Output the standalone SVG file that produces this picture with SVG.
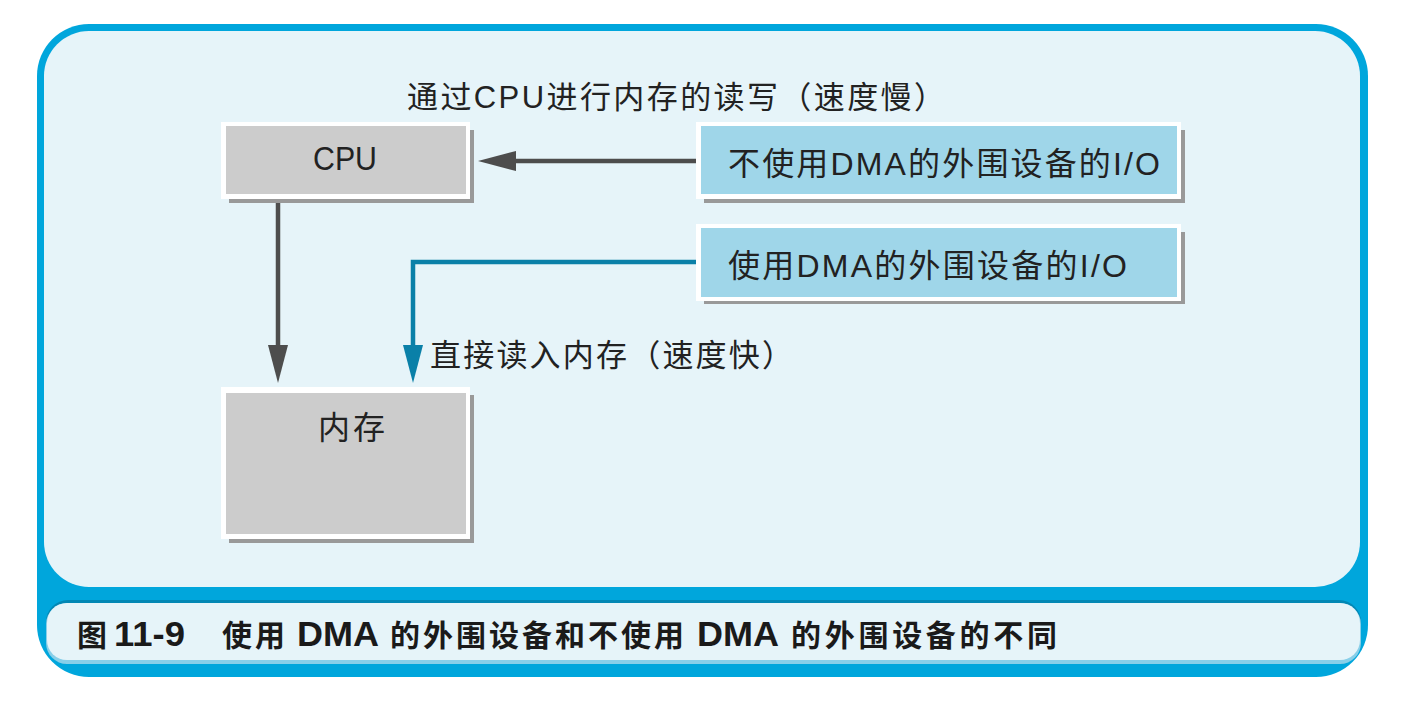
<svg xmlns="http://www.w3.org/2000/svg" width="1408" height="710" viewBox="0 0 1408 710">
<style>
.t{font-family:"Liberation Sans","Noto Sans CJK SC",sans-serif;fill:#222;}
.cap{font-family:"Liberation Sans","Noto Sans CJK SC",sans-serif;font-weight:bold;fill:#1a1a1a;font-size:30px;}
.wb{fill:#ffffff;}
.sh{fill:#999999;}
.gray{fill:#cccccc;}
.blue{fill:#9fd6e9;}
</style>
<rect width="1408" height="710" fill="#ffffff"/>
<g id="frame">
<rect x="37" y="24" width="1331" height="653" rx="52" fill="#00a6dc"/>
<rect x="44" y="31" width="1316" height="556" rx="45" fill="#e6f4f9"/>
</g>
<g id="caption">
<rect x="46" y="600" width="1315" height="64" rx="22" fill="#0287b4"/>
<rect x="46" y="603" width="1315" height="61" rx="21" fill="#88cfe9"/>
<rect x="47" y="603" width="1313" height="57" rx="20" fill="#e6f4f9"/>
<text class="cap" y="646"><tspan x="77">图</tspan><tspan x="114" font-size="35" textLength="71" lengthAdjust="spacingAndGlyphs">11-9</tspan><tspan x="222" textLength="63" lengthAdjust="spacing">使用</tspan><tspan x="297" font-size="35" textLength="82" lengthAdjust="spacingAndGlyphs">DMA</tspan><tspan x="390" textLength="294" lengthAdjust="spacing">的外围设备和不使用</tspan><tspan x="697" font-size="35" textLength="82" lengthAdjust="spacingAndGlyphs">DMA</tspan><tspan x="791" textLength="266" lengthAdjust="spacing">的外围设备的不同</tspan></text>
</g>
<g id="connectors">
<line x1="278" y1="203" x2="278" y2="347" stroke="#4d4d4d" stroke-width="4.5"/>
<polygon points="268,345 288,345 278,383" fill="#4d4d4d"/>
<line x1="514" y1="161" x2="696" y2="161" stroke="#4d4d4d" stroke-width="4.5"/>
<polygon points="516,151 516,171 478,161" fill="#4d4d4d"/>
<polyline points="696,262 413,262 413,347" fill="none" stroke="#0a80a8" stroke-width="4.5"/>
<polygon points="403,345 423,345 413,383" fill="#0a80a8"/>
</g>
<g id="label-slow">
<text class="t" x="407" y="108" font-size="31" textLength="538" lengthAdjust="spacing">通过CPU进行内存的读写（速度慢）</text>
</g>
<g id="label-fast">
<text class="t" x="430" y="366" font-size="31" textLength="363" lengthAdjust="spacing">直接读入内存（速度快）</text>
</g>
<g id="cpu">
<rect class="sh" x="229" y="130" width="245" height="73"/>
<rect class="wb" x="221" y="122" width="249" height="77"/>
<rect class="gray" x="226" y="126" width="240" height="68"/>
<text class="t" x="313" y="170" font-size="33" textLength="64" lengthAdjust="spacingAndGlyphs">CPU</text>
</g>
<g id="memory">
<rect class="sh" x="229" y="395" width="245" height="148"/>
<rect class="wb" x="221" y="387" width="249" height="152"/>
<rect class="gray" x="226" y="393" width="240" height="141"/>
<text class="t" x="318" y="439" font-size="32" textLength="67" lengthAdjust="spacing">内存</text>
</g>
<g id="io-no-dma">
<rect class="sh" x="704" y="130" width="481" height="73"/>
<rect class="wb" x="696" y="122" width="485" height="77"/>
<rect class="blue" x="701" y="126" width="476" height="68"/>
<text class="t" x="728" y="175" font-size="32" textLength="432" lengthAdjust="spacing">不使用DMA的外围设备的I/O</text>
</g>
<g id="io-dma">
<rect class="sh" x="704" y="232" width="481" height="72"/>
<rect class="wb" x="696" y="224" width="485" height="77"/>
<rect class="blue" x="701" y="228" width="476" height="69"/>
<text class="t" x="728" y="277" font-size="32" textLength="399" lengthAdjust="spacing">使用DMA的外围设备的I/O</text>
</g>
</svg>
